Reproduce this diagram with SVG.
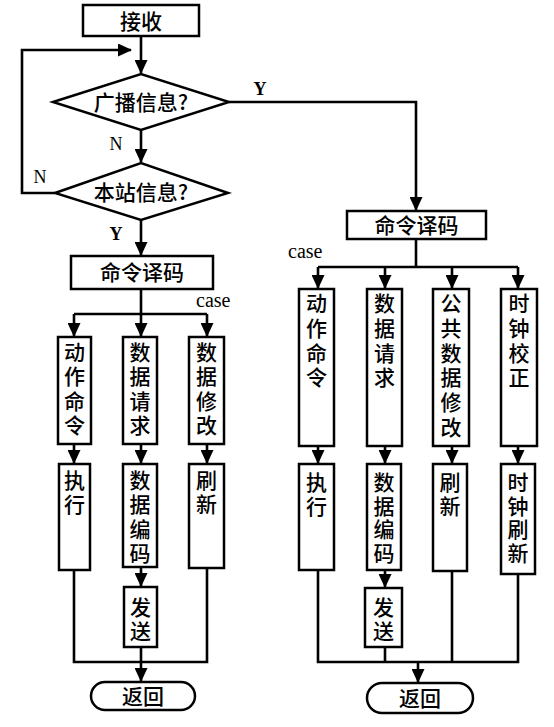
<svg xmlns="http://www.w3.org/2000/svg" width="554" height="727" viewBox="0 0 554 727">
<style>
.box{fill:#fff;stroke:#000;stroke-width:2.5}
.ln{fill:none;stroke:#000;stroke-width:2.6}
.cj{font-family:"Noto Sans CJK SC","Noto Sans CJK TC",sans-serif;font-size:21px;font-weight:500;text-anchor:middle;fill:#000}
.vt{font-family:"Noto Sans CJK SC","Noto Sans CJK TC",sans-serif;font-size:21px;font-weight:500;writing-mode:vertical-rl;text-orientation:upright;text-anchor:start;fill:#000}
.t3{letter-spacing:3.3px}
.t4{letter-spacing:3.8px}
.t2{letter-spacing:2.7px}
.lt{font-family:"Liberation Serif","Times New Roman",serif;font-size:18px;text-anchor:middle;fill:#000}
.cs{font-family:"Liberation Serif","Times New Roman",serif;font-size:20px;fill:#000}
</style>
<defs>
<marker id="ah" viewBox="0 0 14 13" refX="13" refY="6.5" markerWidth="14" markerHeight="13" markerUnits="userSpaceOnUse" orient="auto">
<path d="M0,0 L14,6.5 L0,13 z" fill="#000"/>
</marker>
</defs>
<rect width="554" height="727" fill="#fff"/>

<g id="connectors">
<path class="ln" d="M141,36 V73" marker-end="url(#ah)"/>
<path class="ln" d="M141,130 V162" marker-end="url(#ah)"/>
<path class="ln" d="M55,193 H22 V50 H131" marker-end="url(#ah)"/>
<path class="ln" d="M229,102 H416 V210" marker-end="url(#ah)"/>
<path class="ln" d="M141,220 V255" marker-end="url(#ah)"/>
<path class="ln" d="M141,289 V336" marker-end="url(#ah)"/>
<path class="ln" d="M74,314 H207"/>
<path class="ln" d="M74,314 V336" marker-end="url(#ah)"/>
<path class="ln" d="M207,314 V336" marker-end="url(#ah)"/>
<path class="ln" d="M74,444 V463" marker-end="url(#ah)"/>
<path class="ln" d="M141,444 V463" marker-end="url(#ah)"/>
<path class="ln" d="M207,444 V463" marker-end="url(#ah)"/>
<path class="ln" d="M141,567 V586" marker-end="url(#ah)"/>
<path class="ln" d="M74,570 V662 H207 V568"/>
<path class="ln" d="M141,647 V681" marker-end="url(#ah)"/>

<path class="ln" d="M416,239 V267"/>
<path class="ln" d="M318,267 H518"/>
<path class="ln" d="M318,267 V288" marker-end="url(#ah)"/>
<path class="ln" d="M385,267 V288" marker-end="url(#ah)"/>
<path class="ln" d="M452,267 V288" marker-end="url(#ah)"/>
<path class="ln" d="M518,267 V288" marker-end="url(#ah)"/>
<path class="ln" d="M318,446 V463" marker-end="url(#ah)"/>
<path class="ln" d="M385,446 V463" marker-end="url(#ah)"/>
<path class="ln" d="M452,446 V463" marker-end="url(#ah)"/>
<path class="ln" d="M518,446 V463" marker-end="url(#ah)"/>
<path class="ln" d="M385,570 V587" marker-end="url(#ah)"/>
<path class="ln" d="M318,570 V662 H518 V574"/>
<path class="ln" d="M385,647 V662"/>
<path class="ln" d="M452,571 V662"/>
<path class="ln" d="M418,662 V682" marker-end="url(#ah)"/>

<text class="lt" x="260" y="95" font-weight="bold">Y</text>
<text class="lt" x="116" y="150">N</text>
<text class="lt" x="40" y="183">N</text>
<text class="lt" x="116" y="240" font-weight="bold">Y</text>
<text class="cs" x="196" y="307">case</text>
<text class="cs" x="288" y="258">case</text>
</g>

<g id="n-recv"><rect class="box" x="83" y="5" width="116" height="31"/><text class="cj" x="141" y="29">接收</text></g>
<g id="n-broadcast"><polygon class="box" points="53,102 141,74 229,102 141,130"/><text class="cj" x="141" y="110">广播信息?</text></g>
<g id="n-local"><polygon class="box" points="55,193 141,163 228,193 141,220"/><text class="cj" x="141" y="200">本站信息?</text></g>

<g id="n-decodeL"><rect class="box" x="71" y="256" width="142" height="33"/><text class="cj" x="142" y="280">命令译码</text></g>
<g id="n-actL"><rect class="box" x="58" y="337" width="33" height="107"/><text class="vt t3" x="74.5" y="341.5">动作命令</text></g>
<g id="n-reqL"><rect class="box" x="123" y="337" width="34" height="107"/><text class="vt t3" x="140" y="341.5">数据请求</text></g>
<g id="n-modL"><rect class="box" x="189" y="337" width="35" height="107"/><text class="vt t3" x="206.5" y="341.5">数据修改</text></g>
<g id="n-execL"><rect class="box" x="59" y="464" width="31" height="106"/><text class="vt t3" x="74.5" y="469.5">执行</text></g>
<g id="n-encL"><rect class="box" x="123" y="464" width="34" height="103"/><text class="vt t3" x="140" y="469.5">数据编码</text></g>
<g id="n-refL"><rect class="box" x="189" y="464" width="35" height="104"/><text class="vt t3" x="206.5" y="469.5">刷新</text></g>
<g id="n-sendL"><rect class="box" x="124" y="587" width="33" height="60"/><text class="vt t2" x="140.5" y="596.5">发送</text></g>
<g id="n-retL"><rect class="box" x="91" y="682" width="104" height="28" rx="14"/><text class="cj" x="143" y="704">返回</text></g>

<g id="n-decodeR"><rect class="box" x="347" y="211" width="139" height="28"/><text class="cj" x="416.5" y="233">命令译码</text></g>
<g id="n-actR"><rect class="box" x="299" y="289" width="35" height="157"/><text class="vt t4" x="316.5" y="292.5">动作命令</text></g>
<g id="n-reqR"><rect class="box" x="367" y="289" width="35" height="157"/><text class="vt t4" x="384.5" y="292.5">数据请求</text></g>
<g id="n-modR"><rect class="box" x="433" y="289" width="36" height="157"/><text class="vt t4" x="451" y="292.5">公共数据修改</text></g>
<g id="n-clkR"><rect class="box" x="501" y="289" width="36" height="157"/><text class="vt t4" x="519" y="292.5">时钟校正</text></g>
<g id="n-execR"><rect class="box" x="299" y="464" width="35" height="106"/><text class="vt t2" x="316.5" y="471.5">执行</text></g>
<g id="n-encR"><rect class="box" x="367" y="464" width="34" height="106"/><text class="vt t2" x="384" y="471.5">数据编码</text></g>
<g id="n-refR"><rect class="box" x="433" y="464" width="34" height="107"/><text class="vt t2" x="450" y="471.5">刷新</text></g>
<g id="n-clkrefR"><rect class="box" x="501" y="464" width="34" height="110"/><text class="vt t2" x="518" y="471.5">时钟刷新</text></g>
<g id="n-sendR"><rect class="box" x="365" y="588" width="37" height="59"/><text class="vt t2" x="383.5" y="596.5">发送</text></g>
<g id="n-retR"><rect class="box" x="367" y="683" width="106" height="30" rx="15"/><text class="cj" x="420" y="706">返回</text></g>
</svg>
